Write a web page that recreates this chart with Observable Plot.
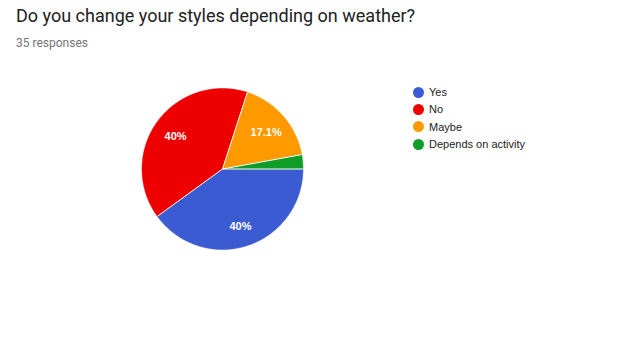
<!DOCTYPE html>
<html><head><meta charset="utf-8">
<script src="https://cdn.jsdelivr.net/npm/d3@7"></script>
<script src="https://cdn.jsdelivr.net/npm/@observablehq/plot@0.6"></script>
<style>
body{margin:0;background:#fff;}
#wrap{position:relative;width:639px;height:340px;overflow:hidden;background:#fff;}
#title{position:absolute;left:16px;top:5px;font-family:Roboto,sans-serif;font-size:18px;color:#212121;white-space:nowrap;}
#sub{position:absolute;left:16px;top:36px;font-family:Roboto,sans-serif;font-size:12px;color:#757575;white-space:nowrap;}
#chart{position:absolute;left:0;top:0;}
#legend{position:absolute;left:413px;top:83.5px;font-family:Arial,"Liberation Sans",sans-serif;font-size:11px;color:#222;}
.item{display:flex;align-items:center;height:17.33px;}
.sw{width:11px;height:11px;border-radius:50%;margin-right:5px;}
</style></head><body>
<div id="wrap">
<div id="title"></div>
<div id="sub"></div>
<div id="chart"></div>
<div id="legend"></div>
</div>
<script>
const title = "Do you change your styles depending on weather?";
const subtitle = "35 responses";
const categories = ["Yes", "No", "Maybe", "Depends on activity"];
const counts = [14, 14, 6, 1];
const colors = ["#3b5bd3", "#ee0000", "#ff9900", "#0f9d28"];

const total = d3.sum(counts);
const startDeg = 90; // slices begin at 3 o'clock, clockwise
const toXY = (deg, r) => ({x: r * Math.sin(deg * Math.PI / 180), y: r * Math.cos(deg * Math.PI / 180)});

let acc = startDeg;
const slices = categories.map((c, i) => {
  const a0 = acc, a1 = acc + counts[i] / total * 360;
  acc = a1;
  const n = Math.max(2, Math.ceil(a1 - a0));
  const pts = [{x: 0, y: 0}];
  for (let k = 0; k <= n; k++) pts.push(toXY(a0 + (a1 - a0) * k / n, 1));
  return {cat: c, color: colors[i], a0, a1, pts, pct: counts[i] / total * 100};
});
const bounds = slices.map(s => ({cx: 0, cy: 0, ...toXY(s.a0, 1)}));
const fmt = p => (Math.round(p * 10) / 10) + "%";
const labels = slices.filter(s => s.pct >= 5).map(s => ({...toXY((s.a0 + s.a1) / 2, 0.72), t: fmt(s.pct)}));

const plot = Plot.plot({
  width: 639, height: 340, margin: 0,
  x: {domain: [-1, 1], range: [141.5, 302.5], axis: null},
  y: {domain: [-1, 1], range: [249, 88], axis: null},
  marks: [
    slices.map(s => Plot.line(s.pts, {x: "x", y: "y", fill: s.color, stroke: s.color, strokeWidth: 0.5, curve: "linear-closed"})),
    Plot.link(bounds, {x1: "cx", y1: "cy", x2: "x", y2: "y", stroke: "white", strokeWidth: 1}),
    Plot.text(labels, {x: "x", y: "y", dy: 2, text: "t", fill: "white", fontSize: 11, fontWeight: "bold", fontFamily: "Arial, 'Liberation Sans', sans-serif"})
  ]
});
document.getElementById("chart").appendChild(plot);
document.getElementById("title").textContent = title;
document.getElementById("sub").textContent = subtitle;
const lg = document.getElementById("legend");
categories.forEach((c, i) => {
  const it = document.createElement("div"); it.className = "item";
  const sw = document.createElement("span"); sw.className = "sw"; sw.style.background = colors[i];
  const tx = document.createElement("span"); tx.textContent = c;
  it.appendChild(sw); it.appendChild(tx); lg.appendChild(it);
});
</script>
</body></html>
